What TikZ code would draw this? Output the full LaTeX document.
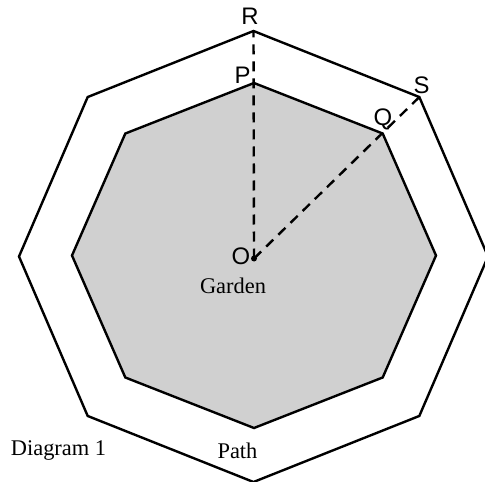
\documentclass[tikz,border=0pt]{standalone}
\usepackage{fontspec}
\setmainfont{Liberation Serif}
\newfontfamily\labfont{Liberation Sans}
\begin{document}
\begin{tikzpicture}[x=1bp,y=-1bp,
  edge/.style={line width=2.4bp, line join=miter},
  dashline/.style={line width=2.4bp, dash pattern=on 10bp off 7bp},
  ptlabel/.style={font=\labfont\fontsize{24}{28}\selectfont, inner sep=0pt, anchor=center},
  txtlabel/.style={font=\fontsize{22.5}{27}\selectfont, inner sep=0pt, anchor=base}]
\useasboundingbox (0,0) rectangle (485,482);
% outer octagon
\foreach \i/\a in {1/90,2/45,3/0,4/-45,5/-90,6/-135,7/180,8/135}{
  \coordinate (o\i) at ({253.5+234.5*cos(\a)},{256.5-225.5*sin(\a)});
  \coordinate (n\i) at ({254+182*cos(\a)},{255.5-172.5*sin(\a)});
}
\draw[edge, fill=white] (o1)--(o2)--(o3)--(o4)--(o5)--(o6)--(o7)--(o8)--cycle;
\draw[edge, fill={rgb,255:red,208;green,208;blue,208}] (n1)--(n2)--(n3)--(n4)--(n5)--(n6)--(n7)--(n8)--cycle;
\coordinate (O) at (254,258.5);
\draw[dashline] (O) -- (o1);
\draw[dashline] (O) -- (o2);
\fill (O) circle (3bp);
\node[ptlabel] (R) at (250,16.5) {R};
\node[ptlabel] (P) at (242.5,75.5) {P};
\node[ptlabel] (Q) at (383,119) {Q};
\node[ptlabel] (S) at (421.5,85.5) {S};
\node[ptlabel] (Olab) at (241,256.5) {O};
\node[txtlabel] (garden) at (233,293) {Garden};
\node[txtlabel] (diag) at (58.5,455) {Diagram 1};
\node[txtlabel] (path) at (237.5,458) {Path};
\end{tikzpicture}
\end{document}
